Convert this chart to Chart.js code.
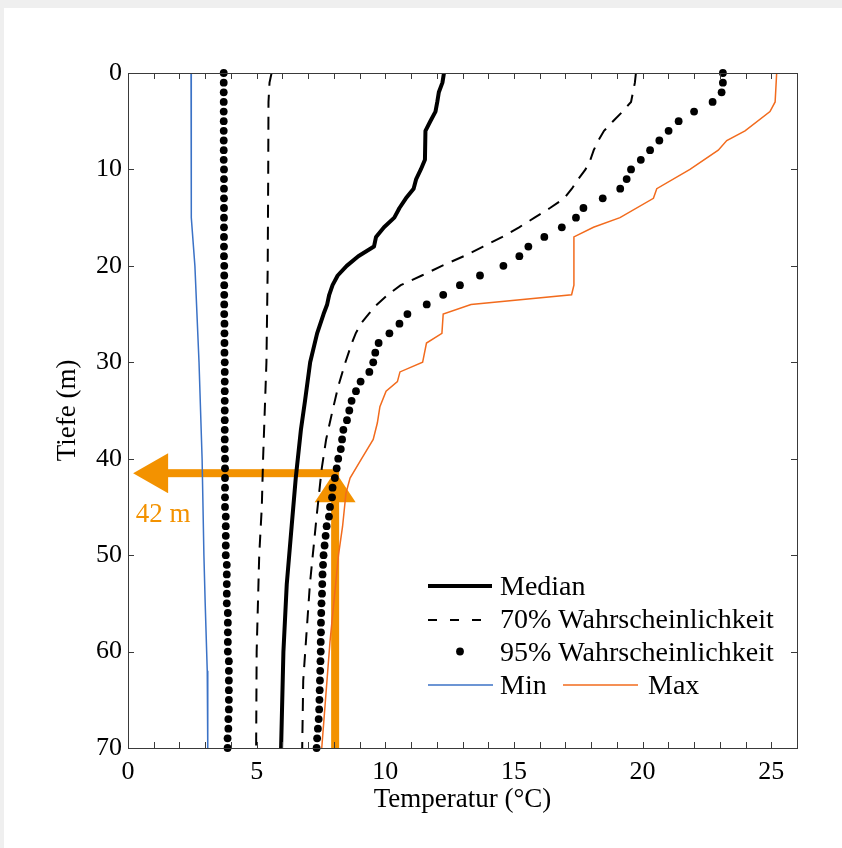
<!DOCTYPE html>
<html>
<head>
<meta charset="utf-8">
<script src="https://cdn.jsdelivr.net/npm/chart.js@4/dist/chart.umd.min.js"></script>
<style>
html, body { margin: 0; padding: 0; background: #efefef; }
#wrap { position: absolute; left: 4px; top: 8px; width: 838px; height: 840px; background: #fff; }
</style>
</head>
<body>
<div id="wrap"><canvas id="tempchart" width="838" height="840"></canvas></div>
<script>
// Tiefe in m (1 m Schritte, für die 95%-Punkte)
var tiefe = [0,1,2,3,4,5,6,7,8,9,10,11,12,13,14,15,16,17,18,19,20,21,22,23,24,25,26,27,28,29,30,
    31,32,33,34,35,36,37,38,39,40,41,42,43,44,45,46,47,48,49,50,51,52,53,54,55,56,57,58,59,60,
    61,62,63,64,65,66,67,68,69,70];

var p95Links = [3.72,3.72,3.72,3.72,3.72,3.72,3.72,3.72,3.72,3.72,3.73,3.73,3.73,3.73,3.73,3.73,3.73,3.73,3.73,3.73,
    3.74,3.74,3.74,3.74,3.74,3.74,3.75,3.75,3.75,3.75,3.76,3.76,3.76,3.76,3.76,3.76,3.76,3.76,3.76,3.76,
    3.77,3.77,3.77,3.77,3.77,3.77,3.80,3.80,3.80,3.80,3.80,3.84,3.84,3.84,3.84,3.84,3.88,3.88,3.88,3.88,3.88,
    3.92,3.92,3.92,3.92,3.92,3.92,3.90,3.90,3.87,3.87];

var p95Rechts = [23.12,23.12,23.07,22.72,22.0,21.40,21.01,20.65,20.29,19.93,19.55,19.38,19.13,18.45,17.70,17.41,
    16.86,16.18,15.56,15.21,14.59,13.68,12.90,12.25,11.61,10.86,10.55,10.16,9.74,9.61,9.53,9.38,9.04,8.86,
    8.69,8.60,8.51,8.37,8.32,8.27,8.17,8.11,8.04,7.95,7.93,7.85,7.81,7.72,7.68,7.64,7.60,7.58,7.56,7.55,
    7.54,7.52,7.51,7.50,7.50,7.49,7.49,7.48,7.47,7.46,7.45,7.44,7.43,7.41,7.38,7.35,7.33];

var medianTiefe = [0,1,2,3,4,5,6,9,10,11,12,13,14,15,16,17,18,19,20,21,22,23,24,25,27,30,34,37,42,47,53,60,70];
var medianTemp = [12.28,12.22,12.08,12.02,11.95,11.75,11.56,11.54,11.38,11.2,11.1,10.8,10.55,10.35,9.95,9.64,9.56,
    8.95,8.5,8.15,7.95,7.82,7.74,7.6,7.35,7.08,6.88,6.72,6.52,6.36,6.17,6.04,5.95];

var p70LinksTiefe = [0,1,3,10,20,30,40,45,50,60,70];
var p70LinksTemp = [5.58,5.5,5.46,5.45,5.43,5.38,5.25,5.2,5.1,5.0,4.98];

var p70RechtsTiefe = [0,1,3,4,5,6,7,8,9,10,11,12,13,14,15,16,17,18,19,20,21,22,23,24,25,26,27,28,30,32.5,35,38,41,46,53,58,63,70];
var p70RechtsTemp = [19.74,19.7,19.55,19.22,18.85,18.5,18.28,18.1,17.97,17.78,17.5,17.25,16.95,16.4,15.8,15.2,14.55,
    13.8,13.05,12.2,11.42,10.6,10.1,9.68,9.35,9.05,8.85,8.7,8.45,8.17,7.95,7.7,7.53,7.33,7.07,6.94,6.81,6.77];

var minTiefe = [0,10,15,20,30,40,50,55,62,70];
var minTemp = [2.45,2.45,2.47,2.6,2.76,2.88,2.95,3.0,3.08,3.1];

var maxTiefe = [0,3,4,6,7,8,10,12,13,15,16,17,22,23,24,25,27,28,30,31,32,33,34.6,36.3,38,40,42,43.6,47,50,59,70];
var maxTemp = [25.21,25.15,24.95,23.98,23.27,22.94,21.84,20.55,20.42,19.12,18.09,17.33,17.33,17.24,13.33,12.25,12.2,
    11.6,11.45,10.57,10.47,10.03,9.79,9.69,9.53,9.08,8.63,8.47,8.34,8.18,7.85,7.53];

var xTickWerte = [0, 5, 10, 15, 20, 25];
var yTickWerte = [0, 10, 20, 30, 40, 50, 60, 70];

// Markierung: 42 m
var pfeilTemp = 8.05;
var pfeilTiefe = 41.5;
var pfeilSpitze = 0.2;
var pfeilText = '42 m';

var BLAU = '#3b72c6';
var ROT = '#f26b1d';
var ORANGE = '#f39200';
var SCHRIFT = 'Liberation Serif, Times New Roman, serif';

function punkte(temp, t) {
    return t.map(function (d, i) { return { x: temp[i], y: d }; });
}

var pfeile = {
    id: 'pfeile',
    beforeDatasetsDraw: function (chart) {
        var c = chart.ctx, xs = chart.scales.x, ys = chart.scales.y;
        var px = xs.getPixelForValue(pfeilTemp);
        var py = ys.getPixelForValue(pfeilTiefe);
        var tip = xs.getPixelForValue(pfeilSpitze);
        var unten = ys.getPixelForValue(70);
        c.save();
        c.fillStyle = ORANGE;
        // waagerecht
        c.fillRect(tip + 34, py - 4, px + 4 - (tip + 34), 8);
        c.beginPath();
        c.moveTo(tip, py);
        c.lineTo(tip + 35, py - 20);
        c.lineTo(tip + 35, py + 20);
        c.closePath();
        c.fill();
        // senkrecht
        c.fillRect(px - 4, py + 28, 8, unten - py - 28);
        c.beginPath();
        c.moveTo(px, py - 2);
        c.lineTo(px - 20.5, py + 29);
        c.lineTo(px + 20.5, py + 29);
        c.closePath();
        c.fill();
        c.font = '27px ' + SCHRIFT;
        c.textBaseline = 'alphabetic';
        c.textAlign = 'left';
        c.fillText(pfeilText, xs.getPixelForValue(0.3), py + 49);
        c.restore();
    }
};

var rahmen = {
    id: 'rahmen',
    afterDatasetsDraw: function (chart) {
        var a = chart.chartArea, c = chart.ctx, xs = chart.scales.x, ys = chart.scales.y;
        c.save();
        c.strokeStyle = '#3a3a3a';
        c.lineWidth = 1;
        c.strokeRect(a.left + 0.5, a.top + 0.5, a.right - a.left, a.bottom - a.top);
        c.beginPath();
        for (var t = 1; t < 26; t++) {
            var x = Math.round(xs.getPixelForValue(t)) + 0.5;
            c.moveTo(x, a.top); c.lineTo(x, a.top + 6);
            c.moveTo(x, a.bottom); c.lineTo(x, a.bottom - 6);
        }
        yTickWerte.forEach(function (d) {
            if (d === 0 || d === 70) return;
            var y = Math.round(ys.getPixelForValue(d)) + 0.5;
            c.moveTo(a.left, y); c.lineTo(a.left + 6, y);
            c.moveTo(a.right, y); c.lineTo(a.right - 6, y);
        });
        c.stroke();
        c.restore();
    }
};

var legende = {
    id: 'legende',
    afterDraw: function (chart) {
        var a = chart.chartArea, c = chart.ctx;
        var ds = chart.data.datasets;
        var ox = a.left - 128, oy = a.top - 73;
        c.save();
        c.font = '28px ' + SCHRIFT;
        c.fillStyle = '#000';
        c.textBaseline = 'alphabetic';
        c.textAlign = 'left';
        function linie(x1, x2, y, farbe, breite, dash) {
            c.beginPath();
            c.setLineDash(dash || []);
            c.strokeStyle = farbe;
            c.lineWidth = breite;
            c.moveTo(ox + x1, oy + y);
            c.lineTo(ox + x2, oy + y);
            c.stroke();
            c.setLineDash([]);
        }
        linie(428, 492, 586, '#000', 4);
        c.fillText(ds[6].label, ox + 500, oy + 595);
        linie(428, 492, 620, '#000', 2, [9, 13]);
        c.fillText(ds[2].label, ox + 500, oy + 628);
        c.beginPath();
        c.arc(ox + 460, oy + 651.5, 3.9, 0, Math.PI * 2);
        c.fill();
        c.fillText(ds[4].label, ox + 500, oy + 661);
        linie(428, 493, 685, BLAU, 1.5);
        c.fillText(ds[0].label, ox + 500, oy + 694);
        linie(563, 638, 685, ROT, 1.5);
        c.fillText(ds[1].label, ox + 648, oy + 694);
        c.restore();
    }
};

var ctx = document.getElementById('tempchart').getContext('2d');
var myChart = new Chart(ctx, {
    type: 'scatter',
    data: {
        datasets: [
            {
                label: 'Min',
                data: punkte(minTemp, minTiefe),
                showLine: true, borderColor: BLAU, borderWidth: 1.5, pointRadius: 0,
            },
            {
                label: 'Max',
                data: punkte(maxTemp, maxTiefe),
                showLine: true, borderColor: ROT, borderWidth: 1.5, pointRadius: 0,
            },
            {
                label: '70% Wahrscheinlichkeit',
                data: punkte(p70LinksTemp, p70LinksTiefe),
                showLine: true, borderColor: '#000', borderWidth: 2, borderDash: [13, 9], pointRadius: 0,
            },
            {
                label: '70% Wahrscheinlichkeit',
                data: punkte(p70RechtsTemp, p70RechtsTiefe),
                showLine: true, borderColor: '#000', borderWidth: 2, borderDash: [13, 9], pointRadius: 0,
            },
            {
                label: '95% Wahrscheinlichkeit',
                data: punkte(p95Links, tiefe),
                showLine: false, pointRadius: 3.9, pointBackgroundColor: '#000', pointBorderWidth: 0, clip: false,
            },
            {
                label: '95% Wahrscheinlichkeit',
                data: punkte(p95Rechts, tiefe),
                showLine: false, pointRadius: 3.9, pointBackgroundColor: '#000', pointBorderWidth: 0, clip: false,
            },
            {
                label: 'Median',
                data: punkte(medianTemp, medianTiefe),
                showLine: true, borderColor: '#000', borderWidth: 4, pointRadius: 0,
                borderJoinStyle: 'round',
            },
        ],
    },
    options: {
        responsive: false,
        animation: false,
        devicePixelRatio: 1,
        events: [],
        layout: { padding: { left: 0, right: 45, top: 65, bottom: 0 } },
        plugins: { legend: { display: false }, tooltip: { enabled: false } },
        scales: {
            x: {
                type: 'linear', min: 0, max: 26,
                grid: { display: false, drawTicks: false },
                border: { display: false },
                afterBuildTicks: function (s) { s.ticks = xTickWerte.map(function (v) { return { value: v }; }); },
                afterFit: function (s) { s.height = 100; },
                ticks: { color: '#000', font: { family: SCHRIFT, size: 26 }, padding: 9, maxRotation: 0 },
                title: {
                    display: true, text: 'Temperatur (°C)', color: '#000',
                    font: { family: SCHRIFT, size: 27 }, padding: { top: 0, bottom: 32 },
                },
            },
            y: {
                type: 'linear', min: 0, max: 70, reverse: true,
                grid: { display: false, drawTicks: false },
                border: { display: false },
                afterBuildTicks: function (s) { s.ticks = yTickWerte.map(function (v) { return { value: v }; }); },
                afterFit: function (s) { s.width = 124; },
                ticks: { color: '#000', font: { family: SCHRIFT, size: 26 }, padding: 6 },
                title: {
                    display: true, text: 'Tiefe (m)', color: '#000',
                    font: { family: SCHRIFT, size: 27 }, padding: { top: 48, bottom: 0 },
                },
            },
        },
    },
    plugins: [pfeile, rahmen, legende],
});
</script>
</body>
</html>
